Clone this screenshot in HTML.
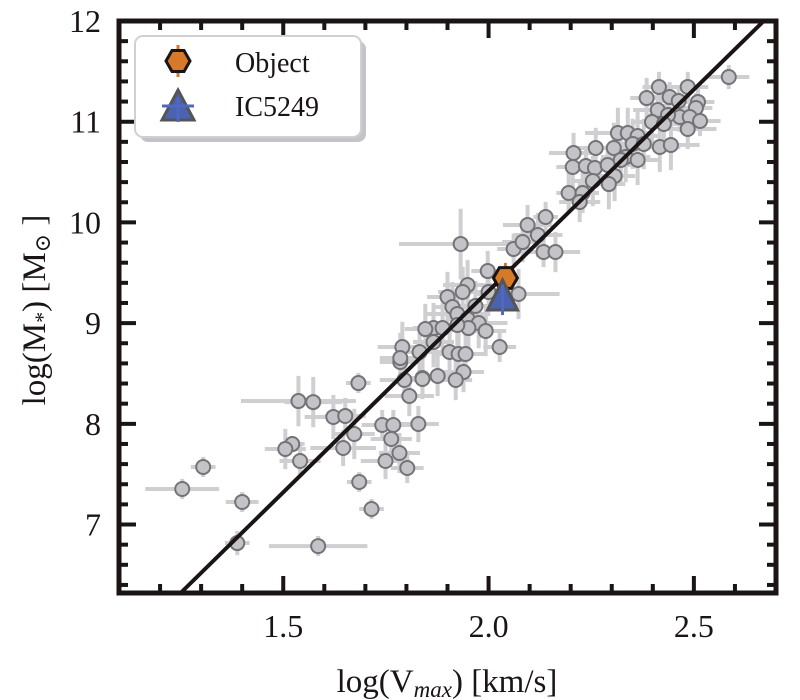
<!DOCTYPE html>
<html><head><meta charset="utf-8"><style>
html,body{margin:0;padding:0;background:#fff;}
svg{display:block;font-family:"Liberation Serif","DejaVu Serif",serif;}
</style></head><body>
<svg id="chart" width="800" height="700" viewBox="0 0 800 700" xmlns="http://www.w3.org/2000/svg">
<g id="errs"></g>
<g id="pts"></g>
<g id="fit"></g>
<g id="special"></g>
<g id="axes"></g>
<g id="legend">
  <rect x="140" y="41" width="226" height="101" rx="8" fill="#c4c4c8"/>
  <rect x="135" y="36" width="226" height="101" rx="8" fill="#fff" stroke="#d0d0d4" stroke-width="2"/>
  <g>
    <line x1="178" y1="45" x2="178" y2="77" stroke="#d67a2a" stroke-width="3"/>
    <polygon points="166,61 172,50.5 184,50.5 190,61 184,71.5 172,71.5" fill="#d67a2a" stroke="#1a1414" stroke-width="3"/>
    <text x="235" y="72" font-size="28" fill="#1a1414">Object</text>
  </g>
  <g>
    <polygon points="178,90 194,120 162,120" fill="#4a62b0" stroke="#555" stroke-width="3"/>
    <line x1="162" y1="106" x2="194" y2="106" stroke="#5068c0" stroke-width="3"/>
    <line x1="178" y1="98" x2="178" y2="122" stroke="#5068c0" stroke-width="3"/>
    <text x="235" y="116" font-size="28" fill="#1a1414">IC5249</text>
  </g>
</g>
<text x="447" y="692" text-anchor="middle" font-size="33" fill="#1a1414">log(V<tspan font-style="italic" font-size="23" dy="5">max</tspan><tspan dy="-5">) [km/s]</tspan></text>
<text transform="translate(45,310) rotate(-90)" text-anchor="middle" font-size="33" fill="#1a1414">log(M<tspan font-size="22" dy="5">*</tspan><tspan dy="-5">) [M</tspan><tspan font-size="22" dy="5">⊙</tspan><tspan dy="-5"> ]</tspan></text>
</svg>
<script>
const xs=[1.683,1.537,1.573,1.622,1.651,1.673,1.522,1.505,1.541,1.646,1.741,1.768,1.829,1.763,1.783,1.749,1.802,1.685,1.715,1.305,1.254,1.400,1.388,1.585,1.795,1.839,1.807,1.785,
1.932,2.061,2.083,2.120,2.134,2.163,2.095,1.998,2.073,1.949,1.937,1.900,1.912,1.924,1.968,1.949,1.976,1.993,1.951,1.924,1.866,1.846,1.888,1.866,2.027,1.790,1.785,1.832,1.905,1.927,1.944,1.939,1.920,1.876,1.839,2.000,
2.585,2.415,2.485,2.385,2.441,2.463,2.510,2.412,2.505,2.466,2.437,2.490,2.515,2.398,2.427,2.485,2.315,2.339,2.363,2.351,2.378,2.417,2.444,2.261,2.305,2.207,2.334,2.363,2.322,2.205,2.237,2.259,2.290,2.307,2.254,2.293,2.195,2.229,2.222,2.139];
const ys=[8.405,8.226,8.216,8.068,8.078,7.899,7.799,7.750,7.631,7.760,7.988,7.988,7.998,7.849,7.710,7.631,7.561,7.422,7.154,7.571,7.353,7.224,6.816,6.786,8.435,8.455,8.276,8.614,
9.786,9.736,9.805,9.875,9.706,9.706,9.974,9.517,9.289,9.378,9.309,9.259,9.160,9.090,9.170,9.041,9.001,8.922,8.951,8.981,8.951,8.941,8.951,8.812,8.763,8.763,8.653,8.713,8.713,8.693,8.693,8.514,8.435,8.475,8.445,9.309,
11.444,11.345,11.345,11.235,11.245,11.206,11.196,11.116,11.136,11.047,11.067,11.047,11.007,10.997,10.977,10.928,10.888,10.888,10.858,10.779,10.779,10.749,10.769,10.739,10.739,10.689,10.649,10.620,10.620,10.550,10.560,10.540,10.570,10.461,10.411,10.381,10.292,10.292,10.203,10.054];
const xerr=[0.03,0.14,0.07,0.07,0.05,0.05,0.03,0.05,0.05,0.08,0.05,0.06,0.05,0.05,0.05,0.06,0.04,0.03,0.03,0.03,0.09,0.04,0.03,0.12,0.06,0.05,0.06,0.05,
0.15,0.04,0.05,0.06,0.05,0.06,0.06,0.04,0.10,0.06,0.06,0.05,0.05,0.08,0.06,0.05,0.07,0.05,0.06,0.05,0.05,0.05,0.06,0.05,0.04,0.06,0.05,0.04,0.05,0.06,0.05,0.05,0.04,0.05,0.04,0.06,
0.05,0.04,0.05,0.04,0.05,0.05,0.04,0.06,0.04,0.05,0.05,0.04,0.05,0.05,0.04,0.07,0.08,0.06,0.05,0.05,0.06,0.05,0.07,0.05,0.06,0.06,0.06,0.05,0.05,0.04,0.05,0.04,0.06,0.05,0.05,0.04,0.03,0.04,0.05,0.03];
const yerr=[0.10,0.25,0.25,0.22,0.18,0.25,0.08,0.20,0.15,0.18,0.15,0.15,0.18,0.15,0.20,0.18,0.15,0.10,0.10,0.10,0.10,0.10,0.12,0.10,0.20,0.18,0.20,0.20,
0.35,0.15,0.20,0.22,0.15,0.20,0.20,0.20,0.25,0.25,0.25,0.25,0.25,0.25,0.25,0.25,0.25,0.25,0.25,0.25,0.25,0.25,0.25,0.25,0.15,0.25,0.25,0.25,0.25,0.25,0.25,0.20,0.20,0.20,0.20,0.20,
0.12,0.15,0.15,0.20,0.15,0.15,0.15,0.15,0.15,0.15,0.15,0.15,0.15,0.20,0.20,0.20,0.25,0.25,0.25,0.25,0.25,0.25,0.25,0.20,0.25,0.20,0.25,0.25,0.25,0.20,0.20,0.20,0.20,0.25,0.25,0.25,0.20,0.20,0.20,0.15];
const objX=[2.041], objY=[9.448], objYerr=[0.15];
const icX=[2.034], icY=[9.23], icYerr=[0.15];
const fitSlope=4.0, fitIntercept=1.32;
const xTicks=[1.5,2.0,2.5], xTickLabels=["1.5","2.0","2.5"];
const yTicks=[7,8,9,10,11,12], yTickLabels=["7","8","9","10","11","12"];

const L=119,R=776,T=21,B=593, X0=1.1,X1=2.7,Y0=6.32,Y1=12;
const sx=v=>L+(v-X0)/(X1-X0)*(R-L);
const sy=v=>B-(v-Y0)/(Y1-Y0)*(B-T);
const NS="http://www.w3.org/2000/svg";
function mk(tag,attrs,parent){const e=document.createElementNS(NS,tag);for(const k in attrs)e.setAttribute(k,attrs[k]);parent.appendChild(e);return e;}
const gErr=document.getElementById('errs'),gPts=document.getElementById('pts');
for(let i=0;i<xs.length;i++){
  const h=mk('line',{x1:sx(xs[i]-xerr[i]),x2:sx(xs[i]+xerr[i]),y1:sy(ys[i]),y2:sy(ys[i]),stroke:'#cfcfd2','stroke-width':4},gErr);
  
  
  const v=mk('line',{x1:sx(xs[i]),x2:sx(xs[i]),y1:sy(ys[i]-yerr[i]),y2:sy(ys[i]+yerr[i]),stroke:'#cfcfd2','stroke-width':4},gErr);
  
  
}
for(let i=0;i<xs.length;i++){
  const c=mk('circle',{cx:sx(xs[i]),cy:sy(ys[i]),r:7,fill:'#c4c4c8',stroke:'#747478','stroke-width':2},gPts);
  
  
}
const gFit=document.getElementById('fit');
const xa=(Y0-fitIntercept)/fitSlope, xb=Math.min((Y1-fitIntercept)/fitSlope,X1);
const fl=mk('line',{x1:sx(xa),y1:sy(Y0),x2:sx(xb),y2:sy(fitSlope*xb+fitIntercept),stroke:'#1a1414','stroke-width':4},gFit);


const gSp=document.getElementById('special');
{
  const cx=sx(objX[0]),cy=sy(objY[0]);
  const e=mk('line',{x1:cx,x2:cx,y1:sy(objY[0]-objYerr[0]),y2:sy(objY[0]+objYerr[0]),stroke:'#d67a2a','stroke-width':3},gSp);
  
  
  let p=[];for(let k=0;k<6;k++){const a=Math.PI/3*k;p.push((cx+12*Math.cos(a))+','+(cy+12*Math.sin(a)));}
  const hx=mk('polygon',{points:p.join(' '),fill:'#d67a2a',stroke:'#1a1414','stroke-width':3},gSp);
  
  
  const tx=sx(icX[0]),ty=sy(icY[0]);
  const tri=mk('polygon',{points:tx+','+(ty-20)+' '+(tx+15)+','+(ty+10)+' '+(tx-15)+','+(ty+10),fill:'#4a62b0',stroke:'#555','stroke-width':3},gSp);
  
  
  const ev=mk('line',{x1:tx,x2:tx,y1:sy(icY[0]-icYerr[0]),y2:sy(icY[0]+icYerr[0]),stroke:'#5068c0','stroke-width':3},gSp);
  
  
}
const gAx=document.getElementById('axes');
const fr=mk('rect',{x:L,y:T,width:R-L,height:B-T,fill:'none',stroke:'#1a1414','stroke-width':5},gAx);


for(let k=11;k<=27;k++){const v=k/10;const major=(k%5===0);const len=major?17:9;const x=sx(v);
  mk('line',{x1:x,x2:x,y1:B,y2:B-len,stroke:'#1a1414','stroke-width':4},gAx);
  mk('line',{x1:x,x2:x,y1:T,y2:T+len,stroke:'#1a1414','stroke-width':4},gAx);}
for(let k=32;k<=60;k++){const v=k/5;const major=(k%5===0);const len=major?17:9;const y=sy(v);
  mk('line',{x1:L,x2:L+len,y1:y,y2:y,stroke:'#1a1414','stroke-width':4},gAx);
  mk('line',{x1:R,x2:R-len,y1:y,y2:y,stroke:'#1a1414','stroke-width':4},gAx);}
for(let i=0;i<xTicks.length;i++){
  const t=mk('text',{x:sx(xTicks[i]),y:637,'text-anchor':'middle','font-size':32,fill:'#1a1414'},gAx);
  t.textContent=xTickLabels[i];
  
  
}
for(let i=0;i<yTicks.length;i++){
  const t=mk('text',{x:101,y:sy(yTicks[i])+11,'text-anchor':'end','font-size':32,fill:'#1a1414'},gAx);
  t.textContent=yTickLabels[i];
  
  
}
</script>
</body></html>
